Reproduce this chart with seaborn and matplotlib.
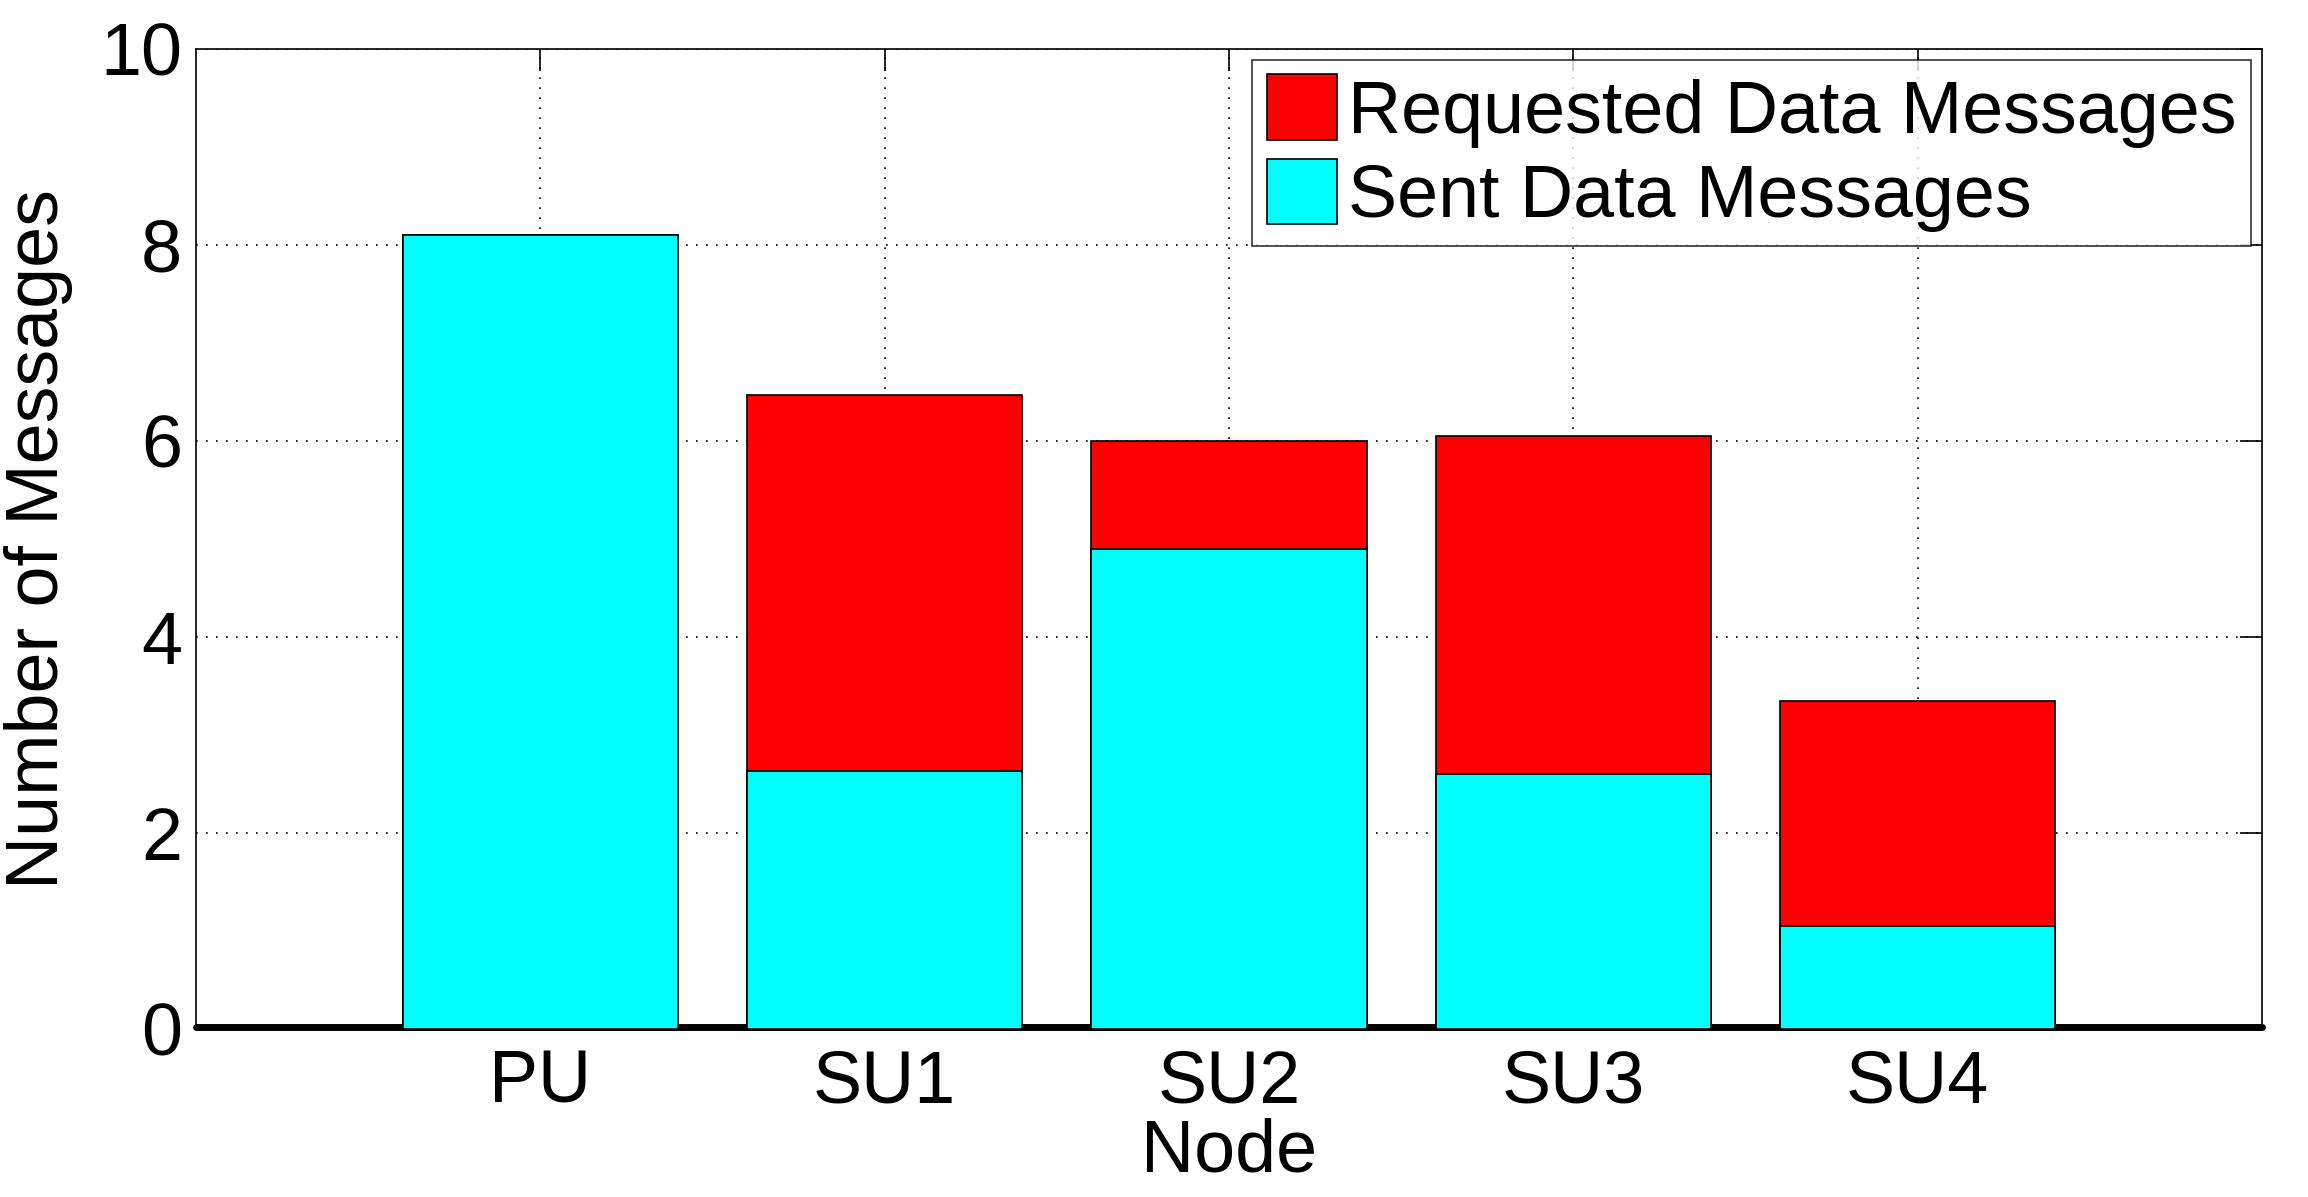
import pandas as pd
import seaborn as sns
import matplotlib.pyplot as plt

sns.set_style("white")
plt.rcParams['font.family'] = ['Liberation Sans', 'DejaVu Sans']
plt.rcParams['text.color'] = 'black'
plt.rcParams['axes.labelcolor'] = 'black'

nodes = ['PU', 'SU1', 'SU2', 'SU3', 'SU4']
sent = [8.1, 2.63, 4.9, 2.6, 1.05]
requested = [0.0, 3.84, 1.1, 3.45, 2.3]

df = pd.DataFrame({'node': nodes, 'sent': sent, 'requested': requested})
df['total'] = df['sent'] + df['requested']

fig = plt.figure(figsize=(23.08, 11.97), dpi=100)
ax = fig.add_axes([0.085, 0.1404, 0.895, 0.819])

# stacked look: total in red, sent drawn over it in cyan
sns.barplot(data=df, x='node', y='total', color='#ff0000', saturation=1,
            edgecolor='black', linewidth=1.2, width=0.8,
            label='Requested Data Messages', ax=ax, zorder=3)
sns.barplot(data=df, x='node', y='sent', color='#00ffff', saturation=1,
            edgecolor='black', linewidth=1.2, width=0.8,
            label='Sent Data Messages', ax=ax, zorder=4)

ax.axhline(0.02, color='black', linewidth=5, zorder=2, clip_on=False)
ax.set_xlim(-1, 5)
ax.set_ylim(0, 10)
ax.set_yticks([0, 2, 4, 6, 8, 10])

ax.grid(True, color='black', linestyle=(0, (1, 5)), linewidth=1.2, zorder=0)
ax.set_axisbelow(True)
for s in ax.spines.values():
    s.set_color('black')
    s.set_linewidth(1.2)

ax.tick_params(axis='both', direction='in', length=16, width=1.2, labelsize=53,
               top=True, right=True, colors='black')
ax.tick_params(axis='y', pad=10)
ax.tick_params(axis='x', pad=14)

ax.set_xlabel('Node', fontsize=53, labelpad=0)
ax.set_ylabel('Number of Messages', fontsize=53, labelpad=20)

leg = ax.legend(loc='upper right', fontsize=53, frameon=True, fancybox=False,
                edgecolor='black', borderpad=0.2, labelspacing=0.15,
                handlelength=0.95, handleheight=1.0, handletextpad=0.15,
                borderaxespad=0.15)
leg.get_frame().set_linewidth(1.2)
for t in leg.get_texts():
    t.set_color('black')

fig.savefig('out.png', dpi=100)
